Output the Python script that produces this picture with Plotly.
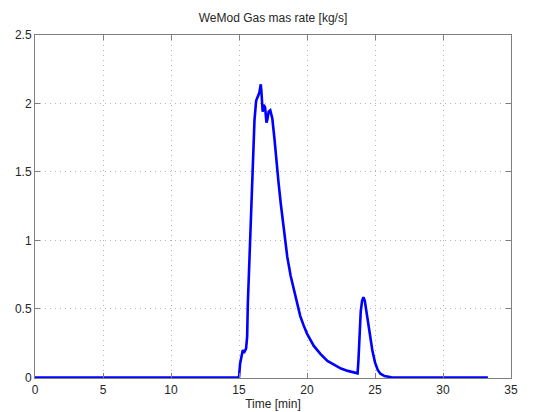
import plotly.graph_objects as go

# Time [min] and gas mass rate [kg/s]
time_min = [0, 15.0, 15.08, 15.2, 15.28, 15.36, 15.44, 15.52, 15.6, 15.65, 15.8, 15.9, 16.0,
            16.14, 16.26, 16.4, 16.5, 16.6, 16.64, 16.74, 16.82, 16.92, 17.02, 17.08,
            17.18, 17.3, 17.45, 17.6, 17.7, 17.9, 18.07, 18.3, 18.55, 18.8, 19.03,
            19.25, 19.5, 19.75, 20.0, 20.5, 21.0, 21.5, 22.0, 22.5, 23.0, 23.5, 23.72,
            23.78, 23.85, 23.95, 24.05, 24.15, 24.25, 24.4, 24.6, 24.8, 25.0, 25.2,
            25.4, 25.7, 26.2, 27.0, 33.3]
gas_rate = [0, 0, 0.1, 0.18, 0.2, 0.18, 0.2, 0.21, 0.3, 0.54, 0.95, 1.27, 1.55,
            1.88, 2.02, 2.05, 2.08, 2.14, 2.1, 1.94, 1.99, 1.97, 1.86, 1.88,
            1.94, 1.95, 1.89, 1.75, 1.63, 1.43, 1.27, 1.06, 0.88, 0.74, 0.64,
            0.54, 0.45, 0.38, 0.32, 0.23, 0.17, 0.12, 0.09, 0.065, 0.048, 0.036, 0.03,
            0.12, 0.3, 0.48, 0.56, 0.585, 0.56, 0.46, 0.32, 0.2, 0.11, 0.055,
            0.027, 0.01, 0.002, 0, 0]

x_ticks = [0, 5, 10, 15, 20, 25, 30, 35]
y_ticks = [0, 0.5, 1, 1.5, 2, 2.5]
y_tick_text = ["0", "0.5", "1", "1.5", "2", "2.5"]

fig = go.Figure()
fig.add_trace(go.Scatter(x=time_min, y=gas_rate, mode="lines",
                         line=dict(color="#0000ff", width=2.6)))

axis_common = dict(showline=True, linecolor="#7f7f7f", linewidth=1, mirror="ticks",
                   ticks="inside", ticklen=5, tickcolor="#7f7f7f", automargin=False,
                   showgrid=True, gridcolor="#b4b4b4", griddash="1px,4px", gridwidth=1,
                   zeroline=False, tickfont=dict(family="Liberation Sans", size=12, color="#262626"))

fig.update_layout(
    width=534, height=412,
    margin=dict(l=35, r=23, t=35, b=34),
    paper_bgcolor="white", plot_bgcolor="white",
    showlegend=False,
    title=dict(text="WeMod Gas mas rate [kg/s]", x=0.5, xref="paper", xanchor="center",
               y=1, yref="container", yanchor="top", pad=dict(t=14),
               font=dict(family="Liberation Sans", size=12, color="#262626")),
    xaxis=dict(range=[0, 35], tickvals=x_ticks, ticklabelstandoff=1, **axis_common,
               title=dict(text="Time [min]", standoff=2,
                          font=dict(family="Liberation Sans", size=12, color="#262626"))),
    yaxis=dict(range=[-0.004, 2.5], tickvals=y_ticks, ticktext=y_tick_text, **axis_common),
)

fig.write_html("out.html")
